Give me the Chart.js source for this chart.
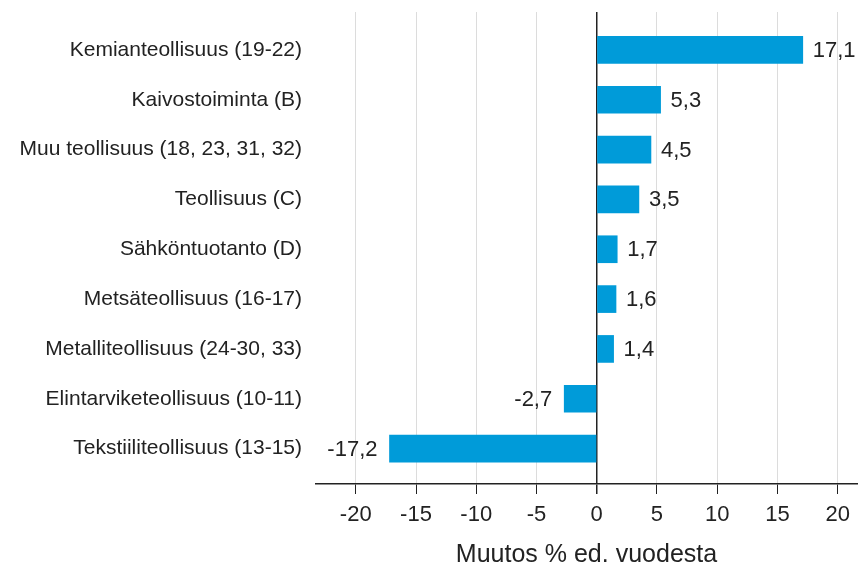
<!DOCTYPE html>
<html>
<head>
<meta charset="utf-8">
<script src="https://cdn.jsdelivr.net/npm/chart.js@4.4.1/dist/chart.umd.min.js"></script>
<style>
  html, body { margin: 0; padding: 0; background: #fff; }
  #wrap { width: 864px; height: 567px; }
</style>
</head>
<body>
<div id="wrap"><canvas id="c" width="864" height="567"></canvas></div>
<script>
const categories = [
  "Kemianteollisuus (19-22)",
  "Kaivostoiminta (B)",
  "Muu teollisuus (18, 23, 31, 32)",
  "Teollisuus (C)",
  "Sähköntuotanto (D)",
  "Metsäteollisuus (16-17)",
  "Metalliteollisuus (24-30, 33)",
  "Elintarviketeollisuus (10-11)",
  "Tekstiiliteollisuus (13-15)"
];
const changes = [17.1, 5.3, 4.5, 3.5, 1.7, 1.6, 1.4, -2.7, -17.2];
const xTicks = [-20, -15, -10, -5, 0, 5, 10, 15, 20];
const axisTitle = "Muutos % ed. vuodesta";

const FONT = "'Liberation Sans', Arial, sans-serif";
const TEXT = '#222222';

const valueLabels = {
  id: 'valueLabels',
  afterDatasetsDraw(chart) {
    const ctx = chart.ctx;
    const meta = chart.getDatasetMeta(0);
    ctx.save();
    ctx.font = "22px " + FONT;
    ctx.fillStyle = TEXT;
    ctx.textBaseline = 'middle';
    meta.data.forEach((el, i) => {
      const v = changes[i];
      const txt = v.toFixed(1).replace('.', ',');
      if (v >= 0) {
        ctx.textAlign = 'left';
        ctx.fillText(txt, el.x + 10, el.y + 1);
      } else {
        ctx.textAlign = 'right';
        ctx.fillText(txt, el.x - 12, el.y + 1);
      }
    });
    ctx.restore();
  }
};

new Chart(document.getElementById('c'), {
  type: 'bar',
  data: {
    datasets: [{
      data: changes.map((v, i) => ({ x: v, y: i })),
      backgroundColor: '#009bd9',
      borderWidth: 0,
      barThickness: 27
    }]
  },
  options: {
    indexAxis: 'y',
    responsive: false,
    animation: false,
    devicePixelRatio: 1,
    layout: { padding: { top: 12, right: 7, left: 0, bottom: 0 } },
    plugins: { legend: { display: false }, tooltip: { enabled: false } },
    scales: {
      x: {
        type: 'linear',
        min: -23.3,
        max: 21.6,
        afterBuildTicks: (s) => { s.ticks = xTicks.map(v => ({ value: v })); },
        afterFit: (s) => { s.height = 83; },
        border: { display: true, color: '#222', width: 1.5 },
        grid: {
          color: (c) => (c.tick && c.tick.value === 0) ? '#222' : '#dcdcdc',
          lineWidth: (c) => (c.tick && c.tick.value === 0) ? 1.5 : 1,
          tickColor: '#222',
          tickLength: 10
        },
        ticks: {
          font: { family: FONT, size: 22 },
          color: TEXT,
          padding: 8,
          callback: (v) => String(v)
        },
        title: {
          display: true,
          text: axisTitle,
          font: { family: FONT, size: 25 },
          color: TEXT,
          padding: { top: 0, bottom: -3 }
        }
      },
      y: {
        type: 'linear',
        reverse: true,
        offset: false,
        min: -0.76,
        max: 8.71,
        afterBuildTicks: (s) => { s.ticks = categories.map((c, i) => ({ value: i })); },
        afterFit: (s) => { s.width = 316; s.paddingTop = 0; s.paddingBottom = 0; },
        border: { display: false },
        grid: { display: false, drawTicks: false, offset: false },
        ticks: {
          font: { family: FONT, size: 21 },
          color: TEXT,
          padding: 14,
          callback: (v) => categories[v]
        }
      }
    }
  },
  plugins: [valueLabels]
});
</script>
</body>
</html>
